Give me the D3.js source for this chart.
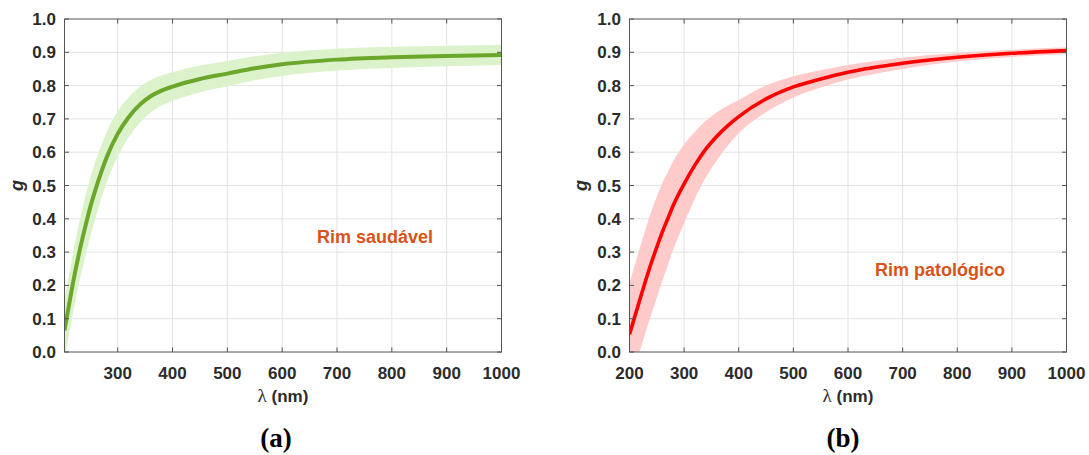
<!DOCTYPE html>
<html>
  <head>
    <meta charset="utf-8">
    <title>g vs wavelength</title>
    <script src="https://d3js.org/d3.v7.min.js"></script>
    <style>
      body { margin: 0; background: #fff; }
      svg { display: block; font-family: "Liberation Sans", Arial, sans-serif; }
      .grid line { stroke: #e3e3e3; stroke-width: 1; }
      .tick-label { font-size: 17px; font-weight: bold; fill: #2b2b2b; }
      .frame { fill: none; stroke: #555; stroke-width: 1; }
      .tickmark { stroke: #555; stroke-width: 1; }
    </style>
  </head>

  <body>
    <svg id="canvas" width="1089" height="455"></svg>
    <script>
      // data: panel (a) healthy kidney
      const lambdaA = [203, 210, 220, 230, 240, 250, 260, 270, 280, 300, 320, 340, 360, 380, 400, 450, 500, 550, 600, 700, 800, 900, 1000];
      const meanA   = [0.065, 0.13, 0.22, 0.30, 0.37, 0.435, 0.49, 0.54, 0.585, 0.655, 0.705, 0.742, 0.768, 0.785, 0.797, 0.82, 0.836, 0.852, 0.864, 0.878, 0.885, 0.889, 0.892];
      const lowerA  = [-0.025, 0.04, 0.13, 0.21, 0.28, 0.347, 0.405, 0.46, 0.509, 0.587, 0.645, 0.688, 0.719, 0.74, 0.754, 0.78, 0.798, 0.816, 0.829, 0.845, 0.853, 0.858, 0.862];
      const upperA  = [0.155, 0.22, 0.31, 0.39, 0.46, 0.523, 0.575, 0.62, 0.661, 0.723, 0.765, 0.796, 0.817, 0.83, 0.84, 0.86, 0.874, 0.888, 0.899, 0.911, 0.917, 0.92, 0.922];

      // panel (b) pathological kidney
      const lambdaB = [200, 210, 220, 230, 240, 250, 260, 270, 280, 300, 320, 340, 360, 380, 400, 450, 500, 550, 600, 700, 800, 900, 1000];
      const meanB   = [0.053, 0.108, 0.163, 0.217, 0.268, 0.315, 0.36, 0.40, 0.44, 0.505, 0.562, 0.61, 0.648, 0.68, 0.707, 0.76, 0.796, 0.82, 0.84, 0.867, 0.885, 0.897, 0.905];
      const lowerB  = [-0.102, -0.047, 0.008, 0.062, 0.113, 0.163, 0.213, 0.26, 0.307, 0.387, 0.462, 0.525, 0.576, 0.62, 0.657, 0.72, 0.764, 0.794, 0.818, 0.85, 0.872, 0.886, 0.895];
      const upperB  = [0.208, 0.263, 0.318, 0.372, 0.423, 0.467, 0.507, 0.54, 0.573, 0.623, 0.662, 0.695, 0.72, 0.74, 0.757, 0.80, 0.828, 0.846, 0.862, 0.884, 0.898, 0.908, 0.915];

      const xTickValues = [200, 300, 400, 500, 600, 700, 800, 900, 1000];
      const yTickValues = [0, 0.1, 0.2, 0.3, 0.4, 0.5, 0.6, 0.7, 0.8, 0.9, 1.0];

      canvas = d3.select("#canvas");

      drawPanel({
        id: "a",
        lambda: lambdaA, mean: meanA, lower: lowerA, upper: upperA,
        domain: [203, 1000],
        left: 64.5, right: 501.5,
        line: "#6aa72b", band: "#dbf2cb", lineWidth: 4,
        note: "Rim saudável", noteX: 317, noteY: 243,
        yLabelX: 22.5, captionX: 276
      });
      drawPanel({
        id: "b",
        lambda: lambdaB, mean: meanB, lower: lowerB, upper: upperB,
        domain: [200, 1000],
        left: 629.5, right: 1066.5,
        line: "#ff0000", band: "#ffcaca", lineWidth: 3.6,
        note: "Rim patológico", noteX: 875, noteY: 276,
        yLabelX: 587, captionX: 843
      });

      function drawPanel(p) {
        let top = 19, bottom = 352;
        let x = d3.scaleLinear().domain(p.domain).range([p.left, p.right]);
        let y = d3.scaleLinear().domain([0, 1]).range([bottom, top]);
        let g = canvas.append("g").attr("id", "panel-" + p.id);

        g.append("clipPath")
            .attr("id", "clip-" + p.id)
          .append("rect")
            .attr("x", p.left).attr("y", top)
            .attr("width", p.right - p.left).attr("height", bottom - top);

        let xTicks = xTickValues.filter(function(d) { return d >= p.domain[0]; });

        // grid
        let grid = g.append("g").classed("grid", true);
        grid.selectAll(".gx")
            .data(xTicks.filter(function(d) { return d > p.domain[0] && d < p.domain[1]; }))
          .enter().append("line")
            .attr("x1", function(d) { return x(d); }).attr("x2", function(d) { return x(d); })
            .attr("y1", top).attr("y2", bottom);
        grid.selectAll(".gy")
            .data(yTickValues.slice(1, -1))
          .enter().append("line")
            .attr("x1", p.left).attr("x2", p.right)
            .attr("y1", function(d) { return y(d); }).attr("y2", function(d) { return y(d); });

        // band and mean curve
        let pts = p.lambda.map(function(l, i) {
          return {l: l, m: p.mean[i], lo: p.lower[i], hi: p.upper[i]};
        });
        let plot = g.append("g").attr("clip-path", "url(#clip-" + p.id + ")");
        plot.append("path")
          .datum(pts)
          .attr("fill", p.band)
          .attr("d", d3.area()
            .curve(d3.curveMonotoneX)
            .x(function(d) { return x(d.l); })
            .y0(function(d) { return y(d.lo); })
            .y1(function(d) { return y(d.hi); }));
        plot.append("path")
          .datum(pts)
          .attr("fill", "none")
          .attr("stroke", p.line)
          .attr("stroke-width", p.lineWidth)
          .attr("d", d3.line()
            .curve(d3.curveMonotoneX)
            .x(function(d) { return x(d.l); })
            .y(function(d) { return y(d.m); }));

        // box with inward ticks on all sides
        g.append("rect")
          .classed("frame", true)
          .attr("x", p.left).attr("y", top)
          .attr("width", p.right - p.left).attr("height", bottom - top);
        let tl = 4.5;
        xTicks.forEach(function(d) {
          if (d <= p.domain[0]) return;
          g.append("line").classed("tickmark", true)
            .attr("x1", x(d)).attr("x2", x(d)).attr("y1", bottom).attr("y2", bottom - tl);
          g.append("line").classed("tickmark", true)
            .attr("x1", x(d)).attr("x2", x(d)).attr("y1", top).attr("y2", top + tl);
        });
        yTickValues.forEach(function(d) {
          g.append("line").classed("tickmark", true)
            .attr("x1", p.left).attr("x2", p.left + tl).attr("y1", y(d)).attr("y2", y(d));
          g.append("line").classed("tickmark", true)
            .attr("x1", p.right).attr("x2", p.right - tl).attr("y1", y(d)).attr("y2", y(d));
        });

        // tick labels
        g.selectAll(".xl")
            .data(xTicks)
          .enter().append("text")
            .classed("tick-label", true)
            .attr("x", function(d) { return x(d); })
            .attr("y", 378.5)
            .attr("text-anchor", "middle")
            .text(function(d) { return d; });
        g.selectAll(".yl")
            .data(yTickValues)
          .enter().append("text")
            .classed("tick-label", true)
            .attr("x", p.left - 8.5)
            .attr("y", function(d) { return y(d) + 6; })
            .attr("text-anchor", "end")
            .text(function(d) { return d.toFixed(1); });

        // axis labels
        let xl = g.append("text")
          .attr("x", (p.left + p.right) / 2)
          .attr("y", 402)
          .attr("text-anchor", "middle")
          .style("font-size", "17px")
          .style("font-weight", "bold")
          .style("fill", "#2b2b2b");
        xl.append("tspan")
          .style("font-family", "'Liberation Serif', serif")
          .style("font-weight", "normal")
          .style("font-size", "19px")
          .text("λ");
        xl.append("tspan").text(" (nm)");

        g.append("text")
          .attr("transform", "translate(" + p.yLabelX + "," + ((top + bottom) / 2) + ") rotate(-90)")
          .attr("text-anchor", "middle")
          .style("font-size", "18px")
          .style("font-weight", "bold")
          .style("font-style", "italic")
          .style("fill", "#2b2b2b")
          .text("g");

        // annotation
        g.append("text")
          .attr("x", p.noteX)
          .attr("y", p.noteY)
          .style("font-size", "18px")
          .style("font-weight", "bold")
          .style("fill", "#d95319")
          .text(p.note);

        // caption
        g.append("text")
          .attr("x", p.captionX)
          .attr("y", 447)
          .attr("text-anchor", "middle")
          .style("font-family", "'Liberation Serif', 'Times New Roman', serif")
          .style("font-size", "27px")
          .style("font-weight", "bold")
          .style("fill", "#000")
          .text("(" + p.id + ")");
      }
    </script>
  </body>
</html>
